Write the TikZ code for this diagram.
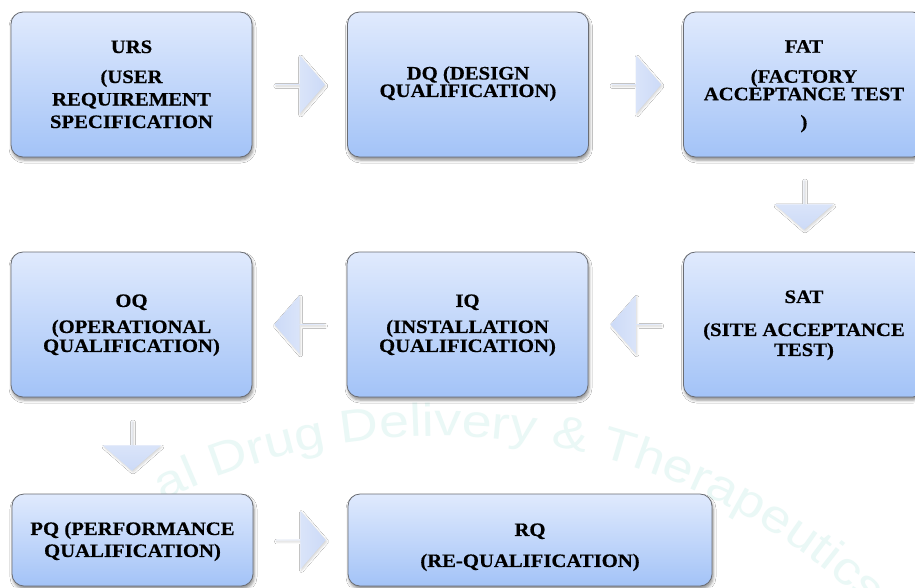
\documentclass[tikz,border=0pt]{standalone}
\usepackage{fontspec}
\setmainfont{Liberation Serif}
\newfontfamily\stagefam{Liberation Serif}[FakeStretch=1.09, BoldFeatures={FakeBold=0.5}]
\newfontfamily\wmfamily{Liberation Sans}[FakeStretch=1.17]
\usetikzlibrary{shapes.arrows,shadows.blur,calc,decorations.text}

\definecolor{boxtop}{RGB}{224,234,253}
\definecolor{boxbot}{RGB}{163,195,247}
\definecolor{boxline}{RGB}{105,108,115}
\definecolor{arrlight}{RGB}{231,238,252}
\definecolor{arrdark}{RGB}{204,218,247}
\definecolor{wmark}{RGB}{234,248,246}

% strut fixing the height of first and depth of last line
\newcommand\stagestrut{\rule[-4pt]{0pt}{18pt}}
% tight, fixed line spacing for the stage titles
\newcommand\stagefont[1]{\stagefam\bfseries\fontsize{19pt}{#1}\selectfont
  \lineskiplimit=-50pt\relax\lineskip=0pt\relax}

\tikzset{
  stage/.style={rectangle, rounded corners=12pt, draw=boxline, line width=0.8pt,
    top color=boxtop, bottom color=boxbot,
    minimum width=241pt, minimum height=145pt, inner sep=0pt,
    blur shadow={shadow xshift=1pt, shadow yshift=-3pt, shadow blur radius=3pt, shadow opacity=45}},
  stagetext/.style={align=center, inner sep=0pt, font=\stagefont{#1}},
  blockarrow/.style={single arrow, draw=none, inner sep=0pt,
    minimum width=58pt, minimum height=50pt,
    single arrow head extend=12.5pt, single arrow tip angle=98,
    blur shadow={shadow xshift=1pt, shadow yshift=-1.5pt, shadow blur radius=2pt, shadow opacity=18}},
}

\begin{document}
\begin{tikzpicture}[x=1pt, y=-1pt]
  \fill[white] (0,0) rectangle (915,587);
  \useasboundingbox (0,0) rectangle (915,587);
  \clip (0,0) rectangle (915,587);

  % faint journal watermark along an arc
  \begin{scope}[y=1pt]
    \path[decorate, decoration={text along path, text color=wmark,
        text={|\wmfamily\fontsize{46pt}{50pt}\selectfont|al Drug Delivery {\&} Therapeutics}}]
      (440,-1057) ++(116.5:621pt) arc[start angle=116.5, end angle=46, radius=621pt];
  \end{scope}

  % stages
  \node[stage] (urs) at (131.5,84.5) {};
  \node[stage] (dq)  at (468,84.5) {};
  \node[stage] (fat) at (804,84.5) {};
  \node[stage] (sat) at (804,324.5) {};
  \node[stage] (iq)  at (467.5,324.5) {};
  \node[stage] (oq)  at (131.5,324.5) {};
  \node[stage, minimum height=92pt] (pq) at (132.5,540) {};
  \node[stage, minimum height=92pt, minimum width=364pt] (rq) at (530,540) {};

  % stage titles
  \node[stagetext=22.5pt] (urs-t) at (131.5,85.5)
    {\stagestrut URS\\[7.5pt](USER\\REQUIREMENT\\SPECIFICATION\stagestrut};
  \node[stagetext=17.5pt] (dq-t) at (468,83.25)
    {\stagestrut DQ (DESIGN\\QUALIFICATION)\stagestrut};
  \node[stagetext=17.5pt] (fat-t) at (804,85.5)
    {\stagestrut FAT\\[12.5pt](FACTORY\\ACCEPTANCE TEST\\[10.5pt])\stagestrut};
  \node[stagetext=20pt] (sat-t) at (804,324.5)
    {\stagestrut SAT\\[13pt](SITE ACCEPTANCE\\TEST)\stagestrut};
  \node[stagetext=19pt] (iq-t) at (467.5,324.5)
    {\stagestrut IQ\\[7pt](INSTALLATION\\QUALIFICATION)\stagestrut};
  \node[stagetext=19pt] (oq-t) at (131.5,324.5)
    {\stagestrut OQ\\[7pt](OPERATIONAL\\QUALIFICATION)\stagestrut};
  \node[stagetext=22pt] (pq-t) at (132.5,541)
    {\stagestrut PQ (PERFORMANCE\\QUALIFICATION)\stagestrut};
  \node[stagetext=31pt] (rq-t) at (530,546.5)
    {\stagestrut RQ\\(RE-QUALIFICATION)\stagestrut};

  % block arrows between stages
  \node[blockarrow, shape border rotate=0, left color=arrlight, right color=arrdark]
    (a1) at ($(urs.east)!0.5!(dq.west)$) {};
  \node[blockarrow, shape border rotate=0, left color=arrlight, right color=arrdark]
    (a2) at ($(dq.east)!0.5!(fat.west)$) {};
  \node[blockarrow, shape border rotate=270, top color=arrlight, bottom color=arrdark]
    (a3) at ($(fat.south)!0.5!(sat.north)$) {};
  \node[blockarrow, shape border rotate=180, right color=arrlight, left color=arrdark]
    (a4) at ($(sat.west)!0.5!(iq.east)$) {};
  \node[blockarrow, shape border rotate=180, right color=arrlight, left color=arrdark]
    (a5) at ($(iq.west)!0.5!(oq.east)$) {};
  \node[blockarrow, shape border rotate=270, top color=arrlight, bottom color=arrdark]
    (a6) at ($(oq.south)!0.5!(pq.north)$) {};
  \node[blockarrow, shape border rotate=0, left color=arrlight, right color=arrdark]
    (a7) at ($(pq.east)!0.5!(rq.west)$) {};
\end{tikzpicture}
\end{document}
